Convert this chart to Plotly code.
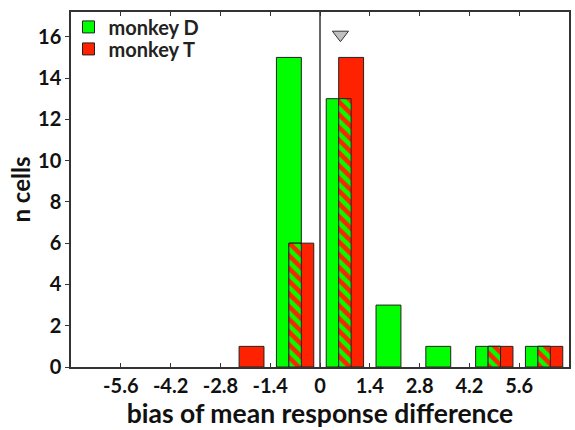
import plotly.graph_objects as go

# Histogram bins (bin width 1.4) and counts per monkey
bin_centers = [-6.3, -4.9, -3.5, -2.1, -0.7, 0.7, 2.1, 3.5, 4.9, 6.3]
counts_D = [0, 0, 0, 0, 15, 13, 3, 1, 1, 1]
counts_T = [0, 0, 0, 1, 6, 15, 0, 0, 1, 1]
tick_vals = [-5.6, -4.2, -2.8, -1.4, 0, 1.4, 2.8, 4.2, 5.6]
tick_text = ["-5.6", "-4.2", "-2.8", "-1.4", "0", "1.4", "2.8", "4.2", "5.6"]
y_ticks = [0, 2, 4, 6, 8, 10, 12, 14, 16]
mean_bias = [0.575]
mean_marker_y = [16.1]

GREEN = "#00FF00"
RED = "#FF2200"
EDGE = "#222222"
FONT = "Lato"

def nonzero(xs, ys):
    pairs = [(x, y) for x, y in zip(xs, ys) if y > 0]
    return [p[0] for p in pairs], [p[1] for p in pairs]

overlap = [min(d, t) for d, t in zip(counts_D, counts_T)]

fig = go.Figure()

xd, yd = nonzero(bin_centers, counts_D)
fig.add_trace(go.Bar(
    x=xd, y=yd, width=0.7, offset=-0.525, name="monkey D", legend="legend",
    marker=dict(color=GREEN, line=dict(color=EDGE, width=1)),
))
xt, yt = nonzero(bin_centers, counts_T)
fig.add_trace(go.Bar(
    x=xt, y=yt, width=0.7, offset=-0.175, name="monkey T", legend="legend2",
    marker=dict(color=RED, line=dict(color=EDGE, width=1)),
))
# striped region where the two monkeys' bars overlap
xo, yo = nonzero(bin_centers, overlap)
fig.add_trace(go.Bar(
    x=xo, y=yo, width=0.35, offset=-0.175, showlegend=False,
    marker=dict(
        color=GREEN, line=dict(color=EDGE, width=1),
        pattern=dict(shape="\\", fgcolor=RED, bgcolor=GREEN,
                     size=9, solidity=0.5, fillmode="replace"),
    ),
))
# mean of the distribution
fig.add_trace(go.Scatter(
    x=mean_bias, y=mean_marker_y, mode="markers", showlegend=False,
    marker=dict(symbol="triangle-down", size=14, color="#C0C0C0",
                line=dict(color="#333333", width=1)),
))

tick_font = dict(family=FONT, size=20, color="#111111", weight="bold")
legend_style = dict(
    x=-0.005, xanchor="left", yanchor="middle",
    bgcolor="rgba(0,0,0,0)", borderwidth=0,
    font=dict(family=FONT, size=20, color="#222222", weight="bold"),
    itemwidth=30,
)

fig.update_layout(
    width=575, height=430,
    margin=dict(l=71, r=4, t=12, b=63),
    barmode="overlay",
    plot_bgcolor="white", paper_bgcolor="white",
    font=dict(family=FONT, color="#111111"),
    legend=dict(y=0.958, **legend_style),
    legend2=dict(y=0.896, **legend_style),
    xaxis=dict(
        range=[-7, 7], tickvals=tick_vals, ticktext=tick_text,
        ticks="inside", ticklen=4, tickcolor="#333333", tickwidth=1,
        showline=True, linecolor="#333333", linewidth=1.5, mirror="ticks",
        showgrid=False, zeroline=True, zerolinecolor="#666666", zerolinewidth=1.5,
        tickfont=tick_font,
        title=dict(text="bias of mean response difference",
                   font=dict(family=FONT, size=26.5, color="#111111", weight="bold"),
                   standoff=6),
    ),
    yaxis=dict(
        range=[0, 17.2], tickvals=y_ticks,
        ticks="outside", ticklen=4, tickcolor="#333333", tickwidth=1,
        showline=True, linecolor="#333333", linewidth=1.5, mirror=True,
        showgrid=False, zeroline=False,
        tickfont=tick_font,
        title=dict(text="n cells",
                   font=dict(family=FONT, size=24, color="#111111", weight="bold"),
                   standoff=1),
    ),
    yaxis2=dict(
        range=[0, 17.2], tickvals=y_ticks, overlaying="y", side="right",
        ticks="inside", ticklen=4, tickcolor="#333333", showticklabels=False,
        showgrid=False, zeroline=False, showline=False,
    ),
)

fig.write_html("out.html")
